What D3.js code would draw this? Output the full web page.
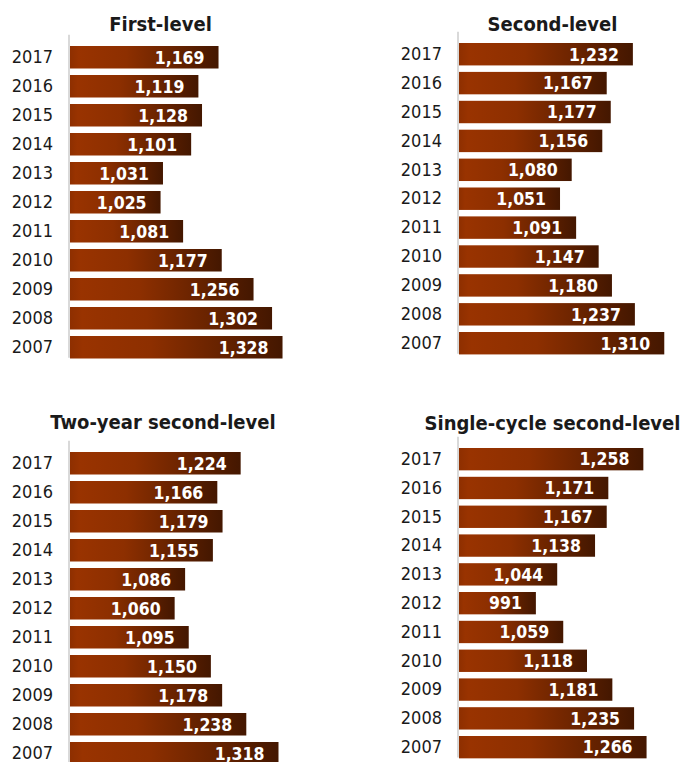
<!DOCTYPE html>
<html>
<head>
<meta charset="utf-8">
<script src="https://cdn.jsdelivr.net/npm/d3@7/dist/d3.min.js"></script>
<style>
  html, body { margin: 0; padding: 0; background: #fff; }
  svg { display: block; }
</style>
</head>
<body>
<script>
const years = ["2017","2016","2015","2014","2013","2012","2011","2010","2009","2008","2007"];
const titles = ["First-level", "Second-level", "Two-year second-level", "Single-cycle second-level"];
const firstLevel = [1169,1119,1128,1101,1031,1025,1081,1177,1256,1302,1328];
const secondLevel = [1232,1167,1177,1156,1080,1051,1091,1147,1180,1237,1310];
const twoYear = [1224,1166,1179,1155,1086,1060,1095,1150,1178,1238,1318];
const singleCycle = [1258,1171,1167,1138,1044,991,1059,1118,1181,1235,1266];
const xDomain = [800, 1400];

const W = 681, H = 762;
const svg = d3.select("body").append("svg").attr("width", W).attr("height", H);

const defs = svg.append("defs");
const grad = defs.append("linearGradient").attr("id", "barGrad")
  .attr("x1", "0%").attr("x2", "100%").attr("y1", "0%").attr("y2", "0%");
[["0%", "#8e2f00"], ["6%", "#993300"], ["38%", "#8d2f00"], ["100%", "#441700"]]
  .forEach(([o, c]) => grad.append("stop").attr("offset", o).attr("stop-color", c));

const panels = [
  { title: titles[0], values: firstLevel, x0: 70, top: 46, step: 29, tx: 160.5, ty: 30.5 },
  { title: titles[1], values: secondLevel, x0: 459, top: 43, step: 28.9, tx: 552.5, ty: 30.5 },
  { title: titles[2], values: twoYear, x0: 70, top: 452, step: 29, tx: 163, ty: 428.5 },
  { title: titles[3], values: singleCycle, x0: 459, top: 448, step: 28.8, tx: 552.5, ty: 430 }
];

const fmt = d3.format(",");

panels.forEach(p => {
  const g = svg.append("g");
  const pi = 0.224;
  const start = p.top - p.step * pi / 2;
  const y = d3.scaleBand().domain(years)
    .range([start, start + p.step * years.length])
    .paddingInner(pi).paddingOuter(pi / 2);
  const x = d3.scaleLinear().domain(xDomain).range([p.x0, p.x0 + 241.5]);
  const data = years.map((yr, i) => ({ year: yr, value: p.values[i] }));

  g.append("text")
    .attr("x", p.tx).attr("y", p.ty)
    .attr("text-anchor", "middle")
    .attr("font-family", "'DejaVu Sans Condensed', 'DejaVu Sans', sans-serif")
    .attr("font-weight", "bold")
    .attr("font-size", 20)
    .attr("fill", "#1a1a1a")
    .text(p.title);

  g.selectAll("rect.bar").data(data).enter().append("rect")
    .attr("class", "bar")
    .attr("x", x(xDomain[0]))
    .attr("y", d => y(d.year))
    .attr("width", d => x(d.value) - x(xDomain[0]))
    .attr("height", y.bandwidth())
    .attr("fill", "url(#barGrad)");

  const axis = d3.axisLeft(y).tickSize(0).tickPadding(16);
  const ag = g.append("g").attr("transform", `translate(${p.x0 - 1},0)`).call(axis);
  ag.select(".domain").remove();
  ag.selectAll("text")
    .attr("font-family", "'DejaVu Sans Condensed', 'DejaVu Sans', sans-serif")
    .attr("font-size", 18)
    .attr("fill", "#1a1a1a");
  ag.append("line")
    .attr("x1", 0).attr("x2", 0)
    .attr("y1", y.range()[0] - 8).attr("y2", y.range()[1] - 4)
    .attr("stroke", "#d9d9d9").attr("stroke-width", 2);

  g.selectAll("text.val").data(data).enter().append("text")
    .attr("class", "val")
    .attr("x", d => x(d.value) - 14)
    .attr("y", d => y(d.year) + y.bandwidth() / 2)
    .attr("dy", "0.36em")
    .attr("text-anchor", "end")
    .attr("font-family", "'DejaVu Sans Condensed', 'DejaVu Sans', sans-serif")
    .attr("font-weight", "bold")
    .attr("font-size", 17.5)
    .attr("fill", "#ffffff")
    .text(d => fmt(d.value));
});
</script>
</body>
</html>
